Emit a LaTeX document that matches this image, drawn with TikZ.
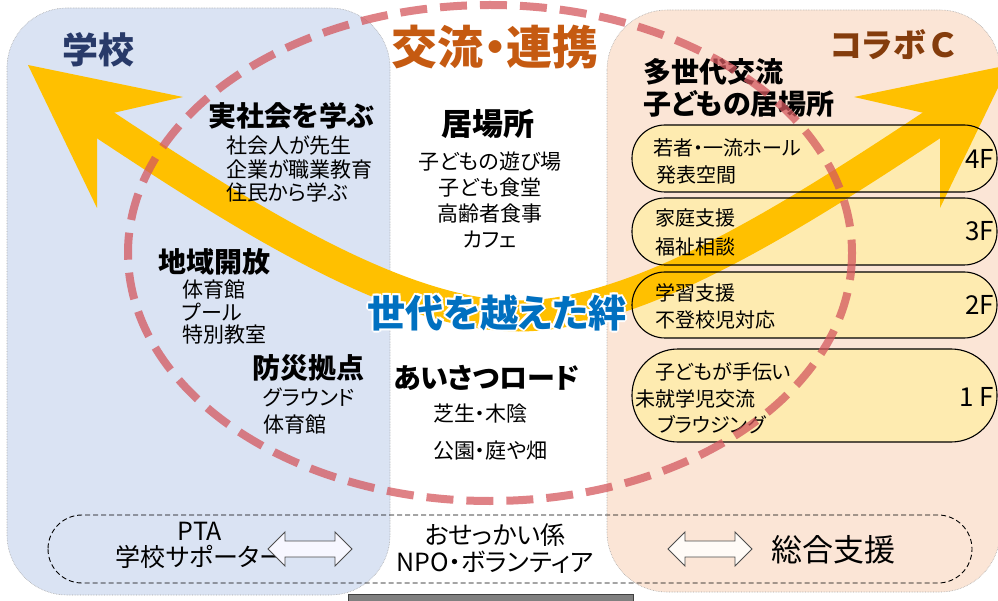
\documentclass[tikz,border=0pt]{standalone}
\usepackage{fontspec}
\setmainfont{Noto Sans CJK JP}[RawFeature=+palt]
\newcommand\fsz[2]{\fontsize{#1}{#2}\selectfont}

\begin{document}
\begin{tikzpicture}[x=1pt,y=-1pt,
    head/.style={anchor=west,inner sep=0pt,align=left,font=\fsz{28}{32}\bfseries},
    item/.style={anchor=west,inner sep=0pt,align=left,font=\fsz{21}{23.5}},
    floortxt/.style={anchor=west,inner sep=0pt,align=left,font=\fsz{20}{27}},
    floornum/.style={anchor=east,inner sep=0pt,font=\fsz{26}{30}},
    bottomtxt/.style={inner sep=0pt,align=center,font=\fsz{25}{26}},
    dblarrow/.style={draw=black!70,line width=0.9pt,line join=miter},
    kizuna/.style={inner sep=0pt,font=\fsz{38}{40}\bfseries}]
    %COLORES
    \definecolor{schoolblue}{RGB}{218,227,243}
    \definecolor{collabpeach}{RGB}{251,229,214}
    \definecolor{floorfill}{RGB}{254,235,176}
    \definecolor{bandyellow}{RGB}{255,192,0}
    \definecolor{kizunablue}{RGB}{0,112,192}
    \definecolor{linkred}{RGB}{197,90,17}
    \definecolor{schoolnavy}{RGB}{40,58,105}
    \definecolor{collabbrown}{RGB}{132,60,12}
    \definecolor{ringred}{RGB}{212,88,94}

    \useasboundingbox (0,0) rectangle (998,601);

    %FONDOS
    \draw[fill=schoolblue,draw=black!35,densely dotted,line width=0.6pt,rounded corners=60pt] (7,8) rectangle (390,595);
    \draw[fill=collabpeach,draw=black!35,densely dotted,line width=0.6pt,rounded corners=60pt] (607,10) rectangle (1000,592);

    %PISOS
    \foreach \t/\b/\r in {125/192/33,198/265/33,272/338/33,349/442/46}
        \fill[floorfill,rounded corners=\r pt] (632,\t) rectangle (997,\b);

    %FLECHA
    \draw[bandyellow,line width=31pt] (100,121.7) .. controls (246,218.5) and (400,316) .. (518.5,316)
        .. controls (637,316) and (791,218.5) .. (937,121.7);
    \fill[bandyellow] (28,65) -- (183,97) -- (113,113) -- (97,137) -- (97,208) -- cycle;
    \fill[bandyellow] (1009,65) -- (854,97) -- (924,113) -- (940,137) -- (940,208) -- cycle;

    \foreach \t/\b/\r in {125/192/33,198/265/33,272/338/33,349/442/46}
        \draw[line width=1.1pt,rounded corners=\r pt] (632,\t) rectangle (997,\b);

    %TITULOS
    \node[inner sep=0pt,font=\fsz{36}{38}\bfseries,text=schoolnavy] (school) at (98,50) {学校};
    \node[inner sep=0pt,font=\fsz{46}{48}\bfseries,text=linkred] (link) at (495,47) {交流・連携};
    \node[inner sep=0pt,font=\fsz{33}{36}\bfseries,text=collabbrown] (collab) at (893,45) {コラボ\hspace{4pt}Ｃ};

    %GAKKO
    \node[head] (jissha) at (208,116) {実社会を学ぶ};
    \node[item] (jisshaList) at (226,169) {社会人が先生\\企業が職業教育\\住民から学ぶ};
    \node[head] (chiiki) at (158,262) {地域開放};
    \node[item,font=\fsz{21}{22.5}] (chiikiList) at (182,312.5) {体育館\\プール\\特別教室};
    \node[head] (bousai) at (252,368) {防災拠点};
    \node[item,font=\fsz{21}{27}] (bousaiList) at (263,411.5) {グラウンド\\体育館};

    %CENTRO
    \node[head,anchor=center,font=\fsz{31}{34}\bfseries] (ibasho) at (488,124) {居場所};
    \node[item,anchor=center,align=center,font=\fsz{21}{26}] (ibashoList) at (490,199.5) {子どもの遊び場\\子ども食堂\\高齢者食事\\カフェ};
    \node[head] (aisatsu) at (393,378) {あいさつロード};
    \node[item,font=\fsz{21}{37}] (aisatsuList) at (433,432) {芝生・木陰\\公園・庭や畑};

    %KIZUNA
    \foreach \a in {0,45,...,315}
        \node[kizuna,text=white] (halo\a) at ([shift={(\a:2.2pt)}] 497,313) {世代を越えた絆};
    \node[kizuna,text=kizunablue] (kizuna) at (497,313) {世代を越えた絆};

    %COLABO
    \node[head] (tasedai) at (643,88) {多世代交流\\子どもの居場所};
    \node[floortxt] (f4txt) at (653,161.5) {若者・一流ホール\\\hspace*{3pt}発表空間};
    \node[floornum] (f4num) at (994,158.5) {4F};
    \node[floortxt,font=\fsz{20}{29}] (f3txt) at (655,232.5) {家庭支援\\福祉相談};
    \node[floornum] (f3num) at (994,231.5) {3F};
    \node[floortxt] (f2txt) at (655,306.5) {学習支援\\不登校児対応};
    \node[floornum] (f2num) at (994,305) {2F};
    \node[floortxt,font=\fsz{20}{26.5}] (f1txt) at (635,398.5) {\hspace*{20pt}子どもが手伝い\\未就学児交流\\\hspace*{22pt}ブラウジング};
    \node[floornum] (f1num) at (994,397) {1 F};

    %ABAJO
    \draw[line width=0.9pt,dash pattern=on 5pt off 3pt,rounded corners=34pt] (48,515) rectangle (972,583);
    \node[bottomtxt] (pta) at (200,545.5) {PTA\\学校サポーター};
    \node[bottomtxt,font=\fsz{25}{27}] (omake) at (495,548.5) {おせっかい係\\NPO・ボランティア};
    \node[inner sep=0pt,font=\fsz{31}{33}] (sougou) at (833,550) {総合支援};
    \draw[dblarrow,fill=blue!3] [shift={(310,549)}] (-42,0) -- (-25,-17) -- (-25,-8) -- (25,-8) -- (25,-17) -- (42,0)
        -- (25,17) -- (25,8) -- (-25,8) -- (-25,17) -- cycle;
    \draw[dblarrow,fill=orange!3] [shift={(710,549)}] (-42,0) -- (-25,-17) -- (-25,-8) -- (25,-8) -- (25,-17) -- (42,0)
        -- (25,17) -- (25,8) -- (-25,8) -- (-25,17) -- cycle;

    %ELIPSE
    \draw[ringred,opacity=0.75,line width=8pt,dash pattern=on 27pt off 13pt] (490,253) ellipse [x radius=362, y radius=248];

    \draw[fill=black!50,draw=black!75,line width=0.8pt] (348,594) rectangle (633,612);
\end{tikzpicture}
\end{document}
